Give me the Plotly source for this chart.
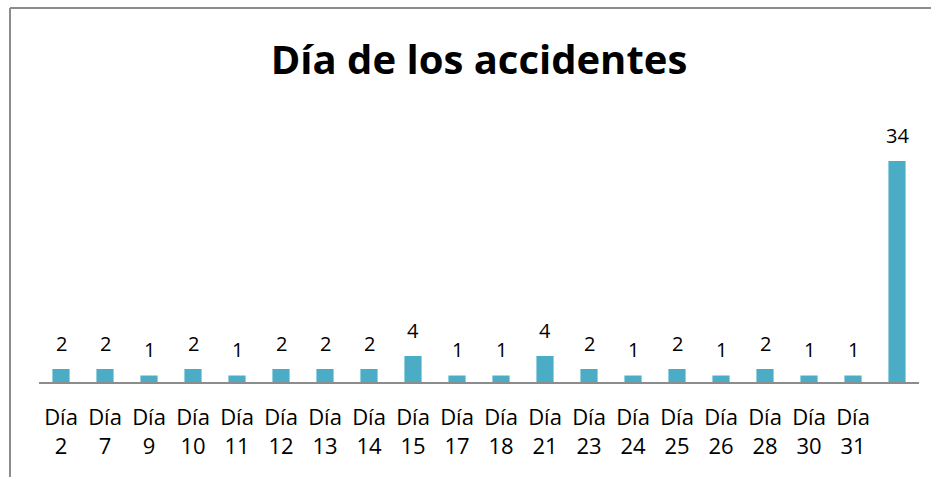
import plotly.graph_objects as go

categories = ["Día 2", "Día 7", "Día 9", "Día 10", "Día 11", "Día 12", "Día 13", "Día 14",
              "Día 15", "Día 17", "Día 18", "Día 21", "Día 23", "Día 24", "Día 25", "Día 26",
              "Día 28", "Día 30", "Día 31", "(sin día)"]
tick_labels = ["Día<br>2", "Día<br>7", "Día<br>9", "Día<br>10", "Día<br>11", "Día<br>12",
               "Día<br>13", "Día<br>14", "Día<br>15", "Día<br>17", "Día<br>18", "Día<br>21",
               "Día<br>23", "Día<br>24", "Día<br>25", "Día<br>26", "Día<br>28", "Día<br>30",
               "Día<br>31", ""]
values = [2, 2, 1, 2, 1, 2, 2, 2, 4, 1, 1, 4, 2, 1, 2, 1, 2, 1, 1, 34]

FONT = "Open Sans"
BAR = "#4BACC6"
GRAY = "#8C8C8C"

fig = go.Figure()
fig.add_trace(go.Bar(x=categories, y=values, marker=dict(color=BAR, line=dict(width=0)),
                     hoverinfo="x+y"))

for c, v in zip(categories, values):
    fig.add_annotation(x=c, y=v, text=str(v), showarrow=False, yanchor="middle",
                       yshift=26, font=dict(family=FONT, size=20, color="#000000"))

W, H = 931, 477
L, R, T, B = 39, 12, 122, 95
pw = W - L - R
ph = H - T - B

def px_x(x):
    return (x - L) / pw

def px_y(y):
    return (H - B - y) / ph

fig.add_shape(type="line", xref="paper", yref="paper",
              x0=px_x(10), x1=px_x(10), y0=px_y(8), y1=px_y(480),
              line=dict(color=GRAY, width=2))
fig.add_shape(type="line", xref="paper", yref="paper",
              x0=px_x(10), x1=px_x(935), y0=px_y(8), y1=px_y(8),
              line=dict(color=GRAY, width=2))

fig.update_layout(
    width=W, height=H,
    margin=dict(l=L, r=R, t=T, b=B, pad=0),
    paper_bgcolor="white", plot_bgcolor="white",
    bargap=0.61,
    showlegend=False,
    title=dict(text="<b>Día de los accidentes</b>", x=0.5, xref="paper", xanchor="center",
               y=1 - 60 / H, yanchor="middle",
               font=dict(family=FONT, size=40, color="#000000")),
    font=dict(family=FONT, size=22, color="#000000"),
    xaxis=dict(tickmode="array", tickvals=categories, ticktext=tick_labels,
               showline=True, linecolor=GRAY, linewidth=2, ticks="", showgrid=False,
               automargin=False,
               tickfont=dict(family=FONT, size=22, color="#000000"), ticklabelstandoff=15),
    yaxis=dict(range=[0, 40], visible=False, showgrid=False, zeroline=False),
)

fig.write_html("out.html", config={"displayModeBar": False},
               post_script="document.body.style.margin='0';document.body.style.overflow='hidden';")
